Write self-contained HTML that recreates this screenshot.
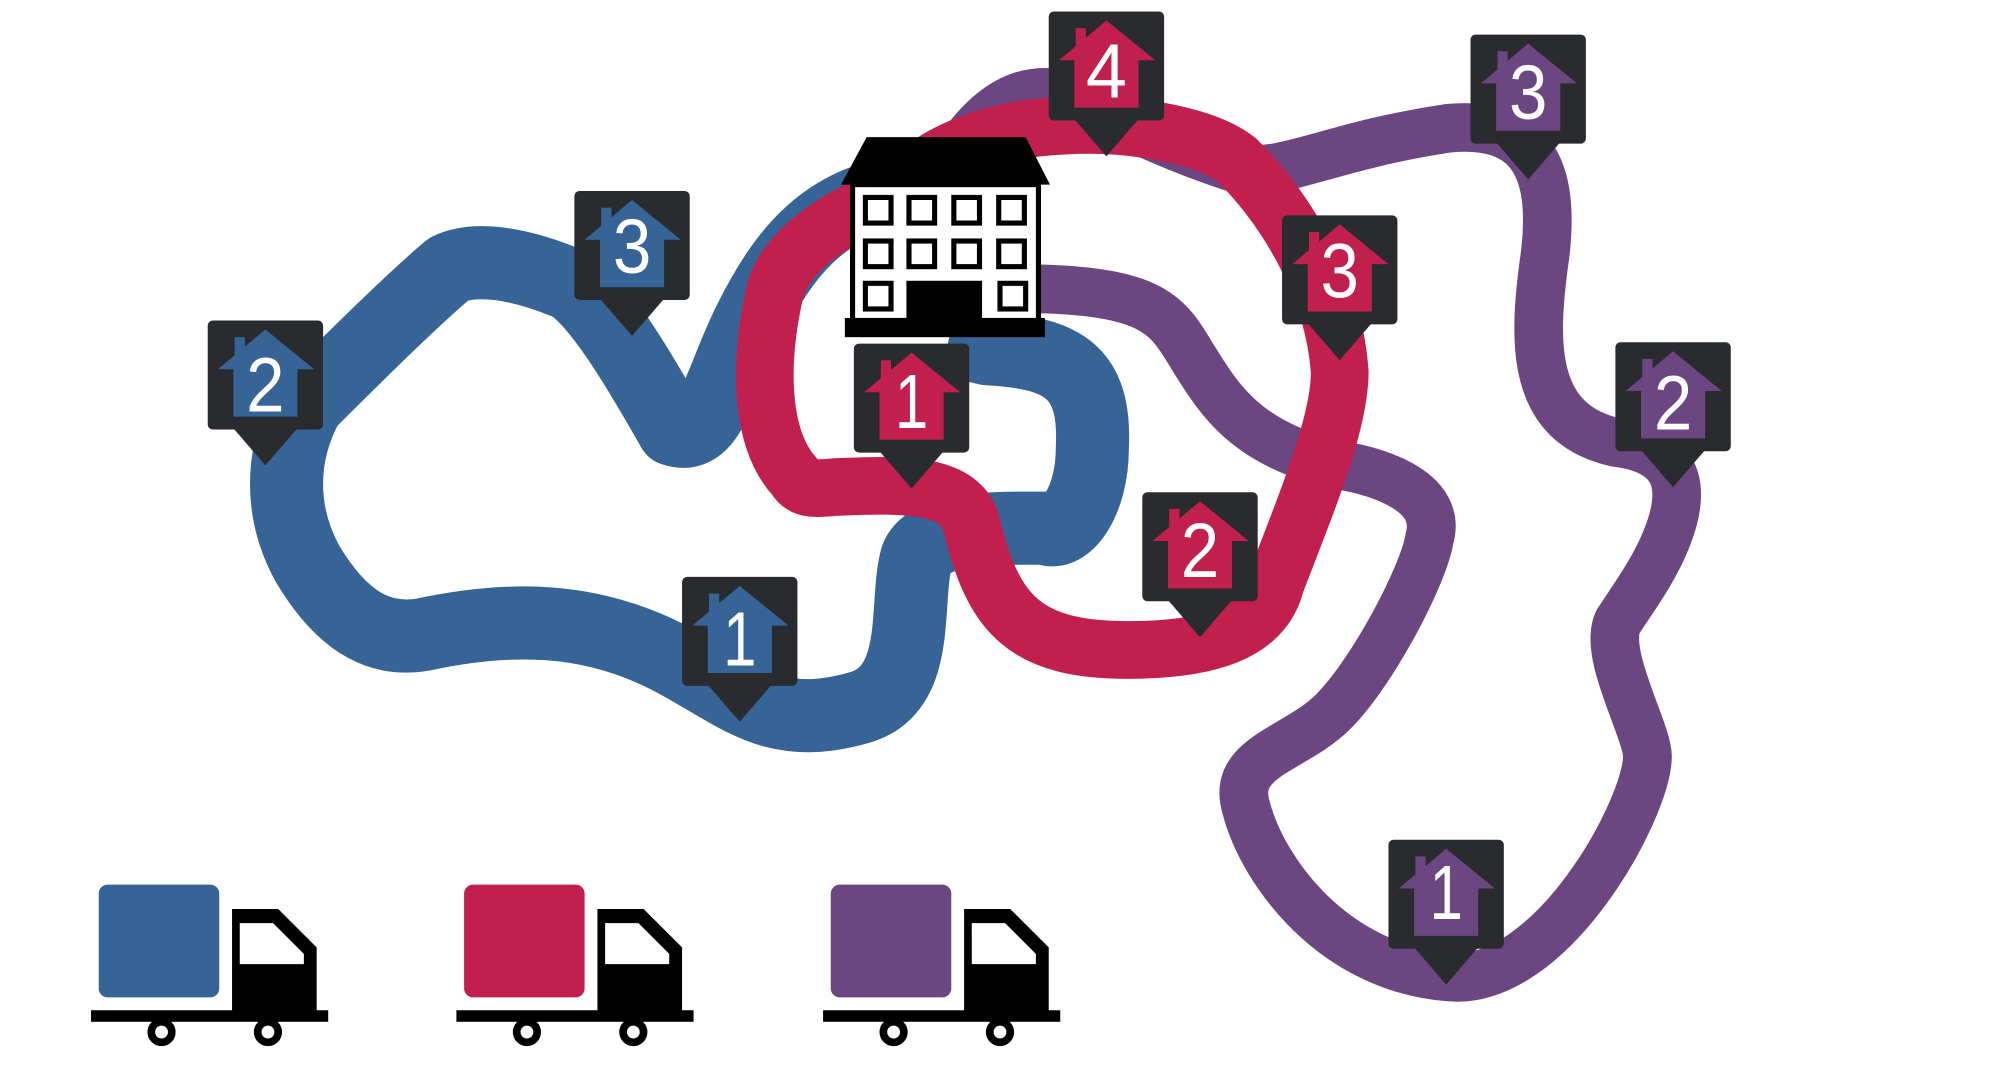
<!DOCTYPE html>
<html><head><meta charset="utf-8"><style>
html,body{margin:0;padding:0;background:#fff;}
svg{display:block}
text{font-family:"Liberation Sans",sans-serif;}
</style></head><body>
<svg width="2000" height="1075" viewBox="0 0 1560 838.5" preserveAspectRatio="none" xmlns="http://www.w3.org/2000/svg">
<defs>
<g id="pin">
<rect x="0" y="0" width="90" height="85" rx="4" fill="#2a2b2e"/>
<polygon points="20,84 70,84 45,113" fill="#2a2b2e"/>
</g>
</defs>
<!-- purple route -->
<path d="M740,130 C760,95 785,72 815,72 C850,75 870,100 960,130 C1000,140 1030,115 1130,100 C1185,95 1215,120 1205,200 C1195,270 1195,330 1260,345 C1300,350 1320,370 1300,420 C1290,445 1275,465 1262,485 C1250,510 1285,570 1285,590 C1285,630 1210,770 1130,762 C1040,755 985,680 972,630 C960,590 1010,585 1040,555 C1070,525 1110,450 1115,420 C1125,385 1080,368 1040,362 C970,345 950,310 930,278 C910,245 900,225 790,225"
 fill="none" stroke="#6c4681" stroke-width="38" stroke-linejoin="round"/>
<!-- blue route -->
<path d="M700,150 C640,160 610,200 585,250 C560,300 555,345 525,335 C505,300 470,238 445,222 C405,205 370,200 350,210 C320,235 265,290 240,315 C218,355 218,400 240,440 C270,490 300,500 330,495 C400,480 460,482 520,512 C575,540 600,572 670,552 C720,538 705,470 715,435 C725,410 780,412 815,412 C832,420 852,390 852,350 C855,290 830,275 770,272 L740,265"
 fill="none" stroke="#376496" stroke-width="57" stroke-linejoin="round"/>
<!-- red route -->
<path d="M700,150 C730,115 780,100 830,98 C880,95 940,105 965,125 C1000,160 1040,220 1045,290 C1045,330 1020,390 995,455 C985,495 940,507 880,507 C800,507 775,480 758,410 C750,375 700,378 650,380 C630,382 625,380 620,372 C595,345 590,290 605,225 C615,195 650,170 700,150 Z"
 fill="none" stroke="#c1204f" stroke-width="45" stroke-linejoin="round"/>

<!-- building -->
<polygon points="676,107 800,107 819,144 656,144" fill="#000"/>
<rect x="665" y="144" width="145" height="106" fill="#fff" stroke="#000" stroke-width="4"/>
<g fill="#fff" stroke="#000" stroke-width="4">
<rect x="675" y="154" width="20" height="20"/><rect x="709" y="154" width="20" height="20"/><rect x="744" y="154" width="20" height="20"/><rect x="779" y="154" width="20" height="20"/>
<rect x="675" y="188" width="20" height="20"/><rect x="709" y="188" width="20" height="20"/><rect x="744" y="188" width="20" height="20"/><rect x="779" y="188" width="20" height="20"/>
<rect x="675" y="221" width="20" height="20"/><rect x="780" y="221" width="20" height="20"/>
</g>
<rect x="707" y="219" width="59" height="30" fill="#000"/>
<rect x="659" y="248" width="156" height="15" fill="#000"/>

<!-- pins -->
<g font-size="60" fill="#fff" text-anchor="middle">
<g transform="translate(162,250)"><use href="#pin"/><g fill="#376496"><polygon points="8,38 45,7 83,38"/><rect x="20" y="36" width="50" height="39"/><rect x="21" y="13" width="8" height="14"/></g><text x="45" y="71" textLength="30" lengthAdjust="spacingAndGlyphs">2</text></g>
<g transform="translate(448,149)"><use href="#pin"/><g fill="#376496"><polygon points="8,38 45,7 83,38"/><rect x="20" y="36" width="50" height="39"/><rect x="21" y="13" width="8" height="14"/></g><text x="45" y="64" textLength="30" lengthAdjust="spacingAndGlyphs">3</text></g>
<g transform="translate(532,450)"><use href="#pin"/><g fill="#376496"><polygon points="8,38 45,7 83,38"/><rect x="20" y="36" width="50" height="39"/><rect x="21" y="13" width="8" height="14"/></g><text x="45" y="69" textLength="26" lengthAdjust="spacingAndGlyphs">1</text></g>
<g transform="translate(666,268)"><use href="#pin"/><g fill="#c1204f"><polygon points="8,38 45,7 83,38"/><rect x="20" y="36" width="50" height="39"/><rect x="21" y="13" width="8" height="14"/></g><text x="45" y="66" textLength="26" lengthAdjust="spacingAndGlyphs">1</text></g>
<g transform="translate(818,9)"><use href="#pin"/><g fill="#c1204f"><polygon points="8,38 45,7 83,38"/><rect x="20" y="36" width="50" height="39"/><rect x="21" y="13" width="8" height="14"/></g><text x="45" y="67" textLength="32" lengthAdjust="spacingAndGlyphs">4</text></g>
<g transform="translate(1000,168)"><use href="#pin"/><g fill="#c1204f"><polygon points="8,38 45,7 83,38"/><rect x="20" y="36" width="50" height="39"/><rect x="21" y="13" width="8" height="14"/></g><text x="45" y="64" textLength="30" lengthAdjust="spacingAndGlyphs">3</text></g>
<g transform="translate(891,384)"><use href="#pin"/><g fill="#c1204f"><polygon points="8,38 45,7 83,38"/><rect x="20" y="36" width="50" height="39"/><rect x="21" y="13" width="8" height="14"/></g><text x="45" y="66" textLength="30" lengthAdjust="spacingAndGlyphs">2</text></g>
<g transform="translate(1147,27)"><use href="#pin"/><g fill="#6c4681"><polygon points="8,38 45,7 83,38"/><rect x="20" y="36" width="50" height="39"/><rect x="21" y="13" width="8" height="14"/></g><text x="45" y="66" textLength="30" lengthAdjust="spacingAndGlyphs">3</text></g>
<g transform="translate(1260,267)"><use href="#pin"/><g fill="#6c4681"><polygon points="8,38 45,7 83,38"/><rect x="20" y="36" width="50" height="39"/><rect x="21" y="13" width="8" height="14"/></g><text x="45" y="68" textLength="30" lengthAdjust="spacingAndGlyphs">2</text></g>
<g transform="translate(1083,655)"><use href="#pin"/><g fill="#6c4681"><polygon points="8,38 45,7 83,38"/><rect x="20" y="36" width="50" height="39"/><rect x="21" y="13" width="8" height="14"/></g><text x="45" y="62" textLength="26" lengthAdjust="spacingAndGlyphs">1</text></g>
</g>

<!-- trucks -->
<g>
<rect x="77" y="690" width="94" height="88" rx="7" fill="#376496"/>
<polygon points="181,709 217,709 247,739 247,790 181,790" fill="#000"/>
<polygon points="187,720 213,720 237,744 237,752 187,752" fill="#fff"/>
<rect x="71" y="788" width="185" height="9" fill="#000"/>
<circle cx="126" cy="805" r="11" fill="#000"/><circle cx="126" cy="805" r="5" fill="#fff"/>
<circle cx="209" cy="805" r="11" fill="#000"/><circle cx="209" cy="805" r="5" fill="#fff"/>
</g>
<g transform="translate(285,0)">
<rect x="77" y="690" width="94" height="88" rx="7" fill="#c1204f"/>
<polygon points="181,709 217,709 247,739 247,790 181,790" fill="#000"/>
<polygon points="187,720 213,720 237,744 237,752 187,752" fill="#fff"/>
<rect x="71" y="788" width="185" height="9" fill="#000"/>
<circle cx="126" cy="805" r="11" fill="#000"/><circle cx="126" cy="805" r="5" fill="#fff"/>
<circle cx="209" cy="805" r="11" fill="#000"/><circle cx="209" cy="805" r="5" fill="#fff"/>
</g>
<g transform="translate(571,0)">
<rect x="77" y="690" width="94" height="88" rx="7" fill="#6c4681"/>
<polygon points="181,709 217,709 247,739 247,790 181,790" fill="#000"/>
<polygon points="187,720 213,720 237,744 237,752 187,752" fill="#fff"/>
<rect x="71" y="788" width="185" height="9" fill="#000"/>
<circle cx="126" cy="805" r="11" fill="#000"/><circle cx="126" cy="805" r="5" fill="#fff"/>
<circle cx="209" cy="805" r="11" fill="#000"/><circle cx="209" cy="805" r="5" fill="#fff"/>
</g>
</svg>
</body></html>
